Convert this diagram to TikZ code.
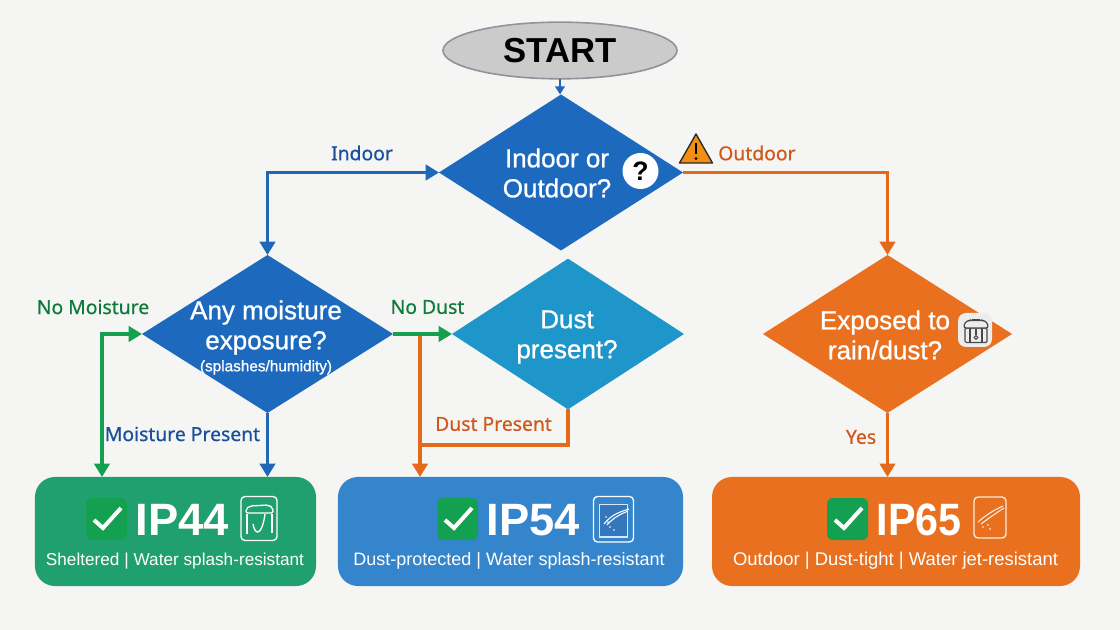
\documentclass[tikz,border=0pt]{standalone}
\usepackage{fontspec}
\usepackage{graphicx}
\setmainfont{Liberation Sans}
\newfontfamily\lblfont[FakeBold=0.6]{Noto Sans}
\newfontfamily\dfont[FakeBold=0.9]{Liberation Sans}
\usetikzlibrary{shapes.geometric,arrows.meta}
\definecolor{bgc}{HTML}{F5F5F4}
\definecolor{dblue}{HTML}{1C69BD}
\definecolor{dcyan}{HTML}{1E96C9}
\definecolor{dorange}{HTML}{E8701F}
\definecolor{boxgreen}{HTML}{21A06F}
\definecolor{boxblue}{HTML}{3585CC}
\definecolor{okgreen}{HTML}{13A050}
\definecolor{argreen}{HTML}{14A04F}
\definecolor{arblue}{HTML}{1F68B5}
\definecolor{arorange}{HTML}{E4691B}
\definecolor{lgreen}{HTML}{107A3C}
\definecolor{lblue}{HTML}{1A4F9C}
\definecolor{lorange}{HTML}{D2571A}
\definecolor{startfill}{HTML}{CBCBCB}
\definecolor{startline}{HTML}{8E939C}
\definecolor{warnc}{HTML}{F28E12}
\definecolor{icong}{HTML}{4A4A4A}
\tikzset{
  x=0.75pt,y=-0.75pt,
  decision/.style={diamond,draw=none,inner sep=0pt,outer sep=0pt,fill=#1},
  outcome/.style={rectangle,rounded corners=15pt,inner sep=0pt,outer sep=0pt,fill=#1},
  dtext/.style={text=white,align=center,inner sep=0pt,font=\dfont\fontsize{19.5}{22.5}\selectfont},
  lbl/.style={inner sep=0pt,font=\lblfont\fontsize{14.5}{17}\selectfont},
  iptext/.style={text=white,inner sep=0pt,anchor=west,font=\bfseries\fontsize{34}{38}\selectfont},
  subtext/.style={text=white,inner sep=0pt},
  conn/.style={line width=2.4pt,draw=#1,-{Triangle[length=10pt,width=11.5pt]}},
  conntwo/.style={line width=2.4pt,draw=#1,{Triangle[length=10pt,width=11.5pt]}-{Triangle[length=10pt,width=11.5pt]}},
  connplain/.style={line width=2.4pt,draw=#1},
  checkbox/.pic={
    \fill[okgreen,rounded corners=4.5pt] (0,0) rectangle (41,42);
    \draw[white,line width=3pt] (8,22) -- (17,30) -- (35,10);
  },
  iconline/.style={draw=white,line width=1pt,fill=none}
}
\begin{document}
\begin{tikzpicture}
\useasboundingbox (0,0) rectangle (1120,630);
\fill[bgc] (0,0) rectangle (1120,630);

% nodes
\node[ellipse,draw=startline,fill=startfill,line width=1.2pt,minimum width=175.5pt,minimum height=42.5pt,inner sep=0pt,outer sep=0pt,font=\bfseries\fontsize{26}{28}\selectfont] (start) at (560,50.5) {START};
\node[decision=dblue,minimum width=183pt,minimum height=117pt] (q1) at (561,172.5) {};
\node[decision=dblue,minimum width=188.3pt,minimum height=118.5pt] (q2) at (267.5,334) {};
\node[decision=dcyan,minimum width=174pt,minimum height=113pt] (q3) at (568,334) {};
\node[decision=dorange,minimum width=186.8pt,minimum height=118.5pt] (q4) at (887.5,334) {};
\node[outcome=boxgreen,minimum width=210.8pt,minimum height=81.8pt] (ip44) at (175.5,531.5) {};
\node[outcome=boxblue,minimum width=258.8pt,minimum height=81.8pt] (ip54) at (510.5,531.5) {};
\node[outcome=dorange,minimum width=276pt,minimum height=81.8pt] (ip65) at (896,531.5) {};

% connectors
\coordinate (c1) at (q2.north |- q1.west);
\coordinate (c2) at (q4.north |- q1.east);
\coordinate (c3) at (102,0 |- q2.west);
\coordinate (c4) at (420,0 |- q2.east);
\coordinate (c5) at (420,445);
\draw[line width=1.6pt,draw=arblue,-{Triangle[length=6pt,width=7pt]}] (start) -- (start |- q1.north);
\draw[conntwo=arblue] (q2.north) -- (c1) -- (q1.west);
\draw[conn=arorange] (q1.east) -- (c2) -- (q4.north);
\draw[conntwo=argreen] (q2.west) -- (c3) -- (c3 |- ip44.north);
\draw[conn=arblue] (q2.south) -- (q2.south |- ip44.north);
\draw[conn=arorange] (q4.south) -- (q4.south |- ip65.north);
\draw[connplain=arorange] (q3.south) -- (q3.south |- c5) -- (c5);
\draw[conn=arorange] (c4) -- (c4 |- ip54.north);
\draw[conn=argreen] (q2.east) -- (q3.west);

% diamond texts
\node[dtext] (t1) at (557,173) {Indoor or\\Outdoor?};
\node[dtext] (t2) at (266,337.5) {Any moisture\\exposure?\\[-6pt]{\fontsize{11.5}{14}\selectfont (splashes/humidity)}};
\node[dtext] (t3) at (567,337) {Dust\\present?};
\node[dtext] (t4) at (885,335) {Exposed to\\rain/dust?};

% connector labels
\node[lbl,text=lblue] (l1) at (362,153) {Indoor};
\node[lbl,text=lorange,anchor=west] (l2) at (718,153) {Outdoor};
\node[lbl,text=lgreen] (l3) at (93,307) {No Moisture};
\node[lbl,text=lblue] (l4) at (182.5,434) {Moisture Present};
\node[lbl,text=lgreen] (l5) at (427.5,307) {No Dust};
\node[lbl,text=lorange] (l6) at (493.5,424) {Dust Present};
\node[lbl,text=lorange] (l7) at (861,437) {Yes};

% question mark badge
\node[circle,fill=white,minimum size=27pt,inner sep=0pt] (qm) at (640.5,171) {\bfseries\fontsize{20}{22}\selectfont ?};
% warning triangle
\draw[fill=warnc,draw=black!85,line width=1pt,line join=round] (696,134) -- (712.5,163) -- (679.5,163) -- cycle;
\draw[black,line width=1.7pt] (696,143) -- (696,154);
\fill[black] (696,158.5) circle (1.3pt);

% cooker badge
\fill[white!93!black,rounded corners=6pt] (958,313) rectangle (992,347);
\begin{scope}[icong,line width=.9pt]
  \draw[fill=white!93!black,rounded corners=1pt] (965,328) rectangle (987,342.5);
  \draw[fill=white!93!black,rounded corners=2pt] (963.5,328) -- (965,322) -- (969,320.5) -- (983,320.5) -- (987,322) -- (988.5,328) -- cycle;
  \draw (972,319.5) -- (980,319.5);
  \draw (970,328) -- (970,342.5) (982,328) -- (982,342.5);
  \draw (976,329) -- (976,335);
  \draw (976,337.5) circle (1.4pt);
\end{scope}

% IP44
\pic at (86,498) {checkbox};
\node[iptext] (ip44t) at (135.5,520) {IP44};
\node[subtext,font=\fontsize{12.9}{16}\selectfont] (ip44s) at (175,561) {Sheltered | Water splash-resistant};
\draw[iconline,rounded corners=3pt] (241,496.5) rectangle (277,540.5);
\draw[iconline,rounded corners=1.5pt] (246,513) -- (246,509) -- (250,506) -- (268,505) -- (273,508) -- (273,513) -- cycle;
\draw[iconline] (247,514) -- (247,534) (272,514) -- (272,533);
\draw[iconline] (253,524) .. controls (255,536) and (262,536) .. (265,514);

% IP54
\pic at (437,498) {checkbox};
\node[iptext] (ip54t) at (486.5,520) {IP54};
\node[subtext,font=\fontsize{13.5}{16}\selectfont] (ip54s) at (509,561) {Dust-protected | Water splash-resistant};
\draw[iconline,rounded corners=3pt] (593.5,496.5) rectangle (633.5,542);
\draw[white!80!boxblue,line width=.8pt,fill=arblue!90!white] (599.5,504.5) rectangle (627.5,537);
\draw[iconline,line width=.8pt] (604,524) .. controls (612,514) and (620,512) .. (629,509);
\draw[iconline,line width=.8pt] (607,525) .. controls (614,517) and (621,514) .. (628,511);
\fill[white] (606,517) circle (.7pt) (610,527) circle (.7pt) (614,530) circle (.7pt) (608,522) circle (.6pt);

% IP65
\pic at (827,498) {checkbox};
\node[iptext] (ip65t) at (876.5,520) {\scalebox{.91}[1]{IP65}};
\node[subtext,font=\fontsize{13.85}{16}\selectfont] (ip65s) at (895.5,561) {Outdoor | Dust-tight | Water jet-resistant};
\draw[iconline,draw=white!85!dorange,rounded corners=3pt] (974,497) rectangle (1006,538);
\draw[iconline,draw=white!85!dorange,line width=.8pt] (978,522) .. controls (986,515) and (994,510) .. (1003,506);
\draw[iconline,draw=white!85!dorange,line width=.8pt] (981,524) .. controls (989,518) and (996,513) .. (1004,508);
\fill[white] (983,527) circle (.7pt) (988,525) circle (.7pt) (990,529) circle (.7pt);
\end{tikzpicture}
\end{document}
